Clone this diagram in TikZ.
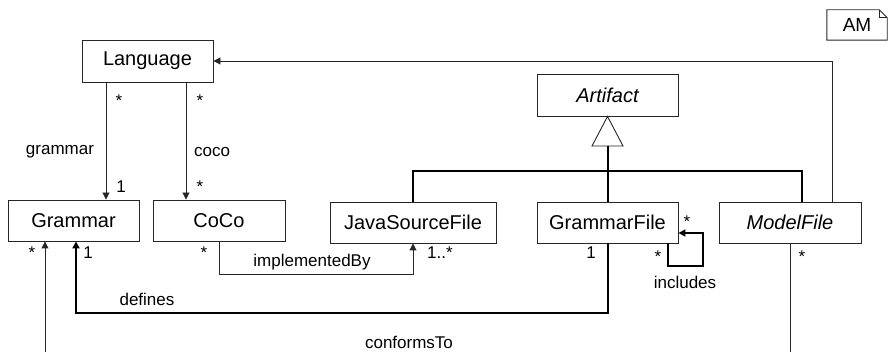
\documentclass[tikz,border=0pt]{standalone}
\usepackage{fontspec}
\setmainfont{Liberation Sans}
\usetikzlibrary{arrows.meta}

\tikzset{
  cls/.style={draw=black!85, line width=0.9pt, fill=white, inner sep=0pt,
              font=\fontsize{20}{24}\selectfont},
  lbl/.style={inner sep=0pt, font=\fontsize{17}{20}\selectfont},
  assoc/.style={draw=black!85, line width=0.9pt, -{Triangle[width=7pt,length=7pt]}},
  thickline/.style={draw=black, line width=2pt},
}

\begin{document}
\begin{tikzpicture}[x=1pt, y=-1pt]
\useasboundingbox (0,0) rectangle (888,352);

% classes
\node[cls, minimum width=131pt, minimum height=42pt] (Lang) at (147.5,61) {Language};
\node[cls, minimum width=131pt, minimum height=41pt] (Gram) at (73.5,220.5) {Grammar};
\node[cls, minimum width=132pt, minimum height=41pt] (CoCo) at (219,220.5) {CoCo};
\node[cls, minimum width=166pt, minimum height=41pt] (JSF) at (413,222.5) {JavaSourceFile};
\node[cls, minimum width=141pt, minimum height=41pt] (GF) at (607.5,222.5) {GrammarFile};
\node[cls, minimum width=142pt, minimum height=41pt] (MF) at (790,222.5) {\itshape ModelFile};
\node[cls, minimum width=141pt, minimum height=42pt] (Art) at (607.5,95) {\itshape Artifact};

% diagram tag with folded corner
\node[inner sep=0pt, minimum width=60pt, minimum height=30pt,
      font=\fontsize{19}{22}\selectfont] (AM) at (857,25) {AM};
\draw[black!85, line width=0.9pt]
  (AM.north west) -- ([xshift=-8pt]AM.north east) -- ([yshift=-8pt]AM.north east)
  -- (AM.south east) -- (AM.south west) -- cycle;
\draw[black!85, line width=0.6pt]
  ([xshift=-8pt]AM.north east) -- ([xshift=-8pt,yshift=-8pt]AM.north east)
  -- ([yshift=-8pt]AM.north east);

% generalization
\coordinate (tri) at (607.5,146);
\draw[black!85, line width=0.9pt, fill=white]
  (Art.south) -- ([xshift=15.5pt]tri) -- ([xshift=-15.5pt]tri) -- cycle;
\coordinate (bus) at (607.5,171);
\draw[thickline] (tri) -- (GF.north);
\draw[thickline] (JSF.north) |- (bus) -| ([xshift=12pt]MF.north);

% associations from Language
\draw[assoc] ([xshift=-41.5pt]Lang.south) -- ([xshift=32.5pt]Gram.north);
\draw[assoc] ([xshift=38.5pt]Lang.south) -- ([xshift=-33pt]CoCo.north);
\node[lbl] (m1) at (119,101) {*};
\node[lbl] (gr) at (60,152) {grammar};
\node[lbl] (m2) at (121,187) {1};
\node[lbl] (m3) at (200,101) {*};
\node[lbl] (co) at (212,152) {coco};
\node[lbl] (m4) at (200,187) {*};

% ModelFile -> Language
\draw[assoc] ([xshift=42pt]MF.north) |- (Lang.east);

% implementedBy
\draw[assoc] (CoCo.south) -- ++(0,33) -| (JSF.south);
\node[lbl] (m5) at (204,253) {*};
\node[lbl] (ib) at (312,262) {implementedBy};
\node[lbl] (m6) at (440,253) {1..*};

% defines
\draw[thickline, -{Triangle[width=7pt,length=7pt]}]
  (GF.south) -- ++(0,70) -| ([xshift=2.5pt]Gram.south);
\node[lbl] (m7) at (88,253) {1};
\node[lbl] (df) at (147,299) {defines};
\node[lbl] (m8) at (591,253) {1};

% includes (self association)
\draw[thickline, -{Triangle[width=7pt,length=7pt]}]
  ([xshift=60.5pt]GF.south) -- ++(0,23) -- ++(35,0) |- ([yshift=-10.5pt]GF.east);
\node[lbl] (m9) at (687,222) {*};
\node[lbl] (m10) at (658,257) {*};
\node[lbl] (inc) at (685,282) {includes};

% conformsTo (runs below the visible area)
\begin{scope}
\clip (0,0) rectangle (888,352);
\draw[assoc] (MF.south) -- (790,370) -- (45,370) -- ([xshift=-28.5pt]Gram.south);
\end{scope}
\node[lbl] (m11) at (802,257) {*};
\node[lbl] (m12) at (32,253) {*};
\node[lbl] (ct) at (409,342) {conformsTo};
\end{tikzpicture}
\end{document}
